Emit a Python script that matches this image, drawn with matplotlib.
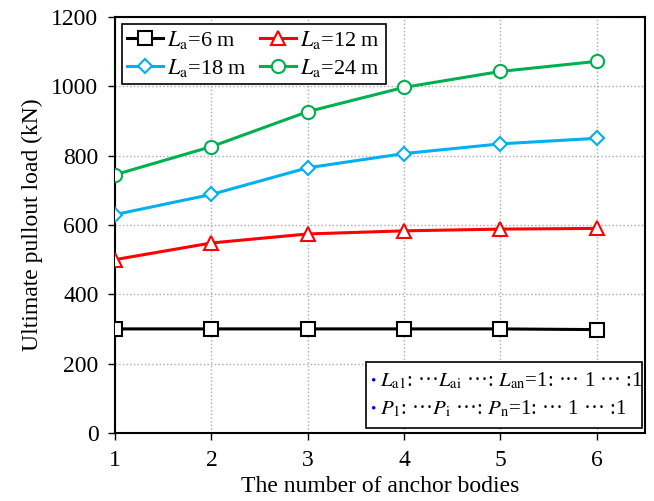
import matplotlib.pyplot as plt
from matplotlib.patches import Rectangle

plt.rcParams['font.family'] = ['Liberation Serif', 'DejaVu Serif']
plt.rcParams['mathtext.fontset'] = 'stix'

# Ultimate pullout load vs number of anchor bodies
bodies = [1, 2, 3, 4, 5, 6]
load_6 = [300, 300, 300, 300, 300, 298]
load_12 = [500, 548, 574, 583, 588, 590]
load_18 = [630, 688, 765, 806, 834, 850]
load_24 = [745, 826, 927, 997, 1043, 1072]

fig = plt.figure(figsize=(6.54, 5.01), dpi=100)
ax = fig.add_axes([0.176, 0.136, 0.810, 0.830])

l6, = ax.plot(bodies, load_6, color='black', lw=2.2, marker='s', ms=9.5, mfc='white',
              mew=1.5, label=r'$L_\mathrm{a}$=6 m', zorder=3)
l12, = ax.plot(bodies, load_12, color='#ff0000', lw=2.2, marker='^', ms=10.5, mfc='white',
               mew=1.5, label=r'$L_\mathrm{a}$=12 m', zorder=3)
l18, = ax.plot(bodies, load_18, color='#00b0f0', lw=2.2, marker='D', ms=7.5, mfc='white',
               mew=1.5, label=r'$L_\mathrm{a}$=18 m', zorder=3)
l24, = ax.plot(bodies, load_24, color='#00b050', lw=2.2, marker='o', ms=9.5, mfc='white',
               mew=1.5, label=r'$L_\mathrm{a}$=24 m', zorder=3)

ax.set_xlim(1, 6.5)
ax.set_ylim(0, 1200)
ax.set_xticks(bodies)
ax.set_yticks(range(0, 1201, 200))
ax.tick_params(direction='out', length=5, width=1, labelsize=17, pad=7)
ax.grid(True, color='#aaaaaa', ls=':', lw=1)
for s in ax.spines.values():
    s.set_linewidth(1.5)

ax.set_xlabel('The number of anchor bodies', fontsize=17, labelpad=4)
ax.set_ylabel('Ultimate pullout load (kN)', fontsize=17, labelpad=6)

# legend rows: 6 m / 12 m, then 18 m / 24 m
leg = ax.legend([l6, l18, l12, l24], [l.get_label() for l in (l6, l18, l12, l24)],
                loc='upper left', ncol=2, fontsize=16, frameon=True, fancybox=False,
                edgecolor='black', framealpha=1, handlelength=1.6, handletextpad=0.2,
                columnspacing=0.6, borderpad=0.25, labelspacing=0.25,
                bbox_to_anchor=(0.0, 1.0), borderaxespad=0.3)
leg.get_frame().set_linewidth(1.2)

# Note box in the lower right
ax.add_patch(Rectangle((0.474, 0.012), 0.520, 0.159, transform=ax.transAxes,
                       facecolor='white', edgecolor='black', lw=1.2, zorder=4))
ax.text(0.482, 0.125, '•', color='blue', fontsize=11, transform=ax.transAxes,
        va='center', zorder=5)
ax.text(0.500, 0.125, r'$L_\mathrm{a1}$: ···$L_\mathrm{ai}$ ···: $L_\mathrm{an}$=1: ··· 1 ··· :1',
        fontsize=15, transform=ax.transAxes, va='center', zorder=5)
ax.text(0.482, 0.058, '•', color='blue', fontsize=11, transform=ax.transAxes,
        va='center', zorder=5)
ax.text(0.500, 0.058, r'$P_\mathrm{1}$: ···$P_\mathrm{i}$ ···: $P_\mathrm{n}$=1: ··· 1 ··· :1',
        fontsize=15, transform=ax.transAxes, va='center', zorder=5)

fig.savefig('out.png', dpi=100)
